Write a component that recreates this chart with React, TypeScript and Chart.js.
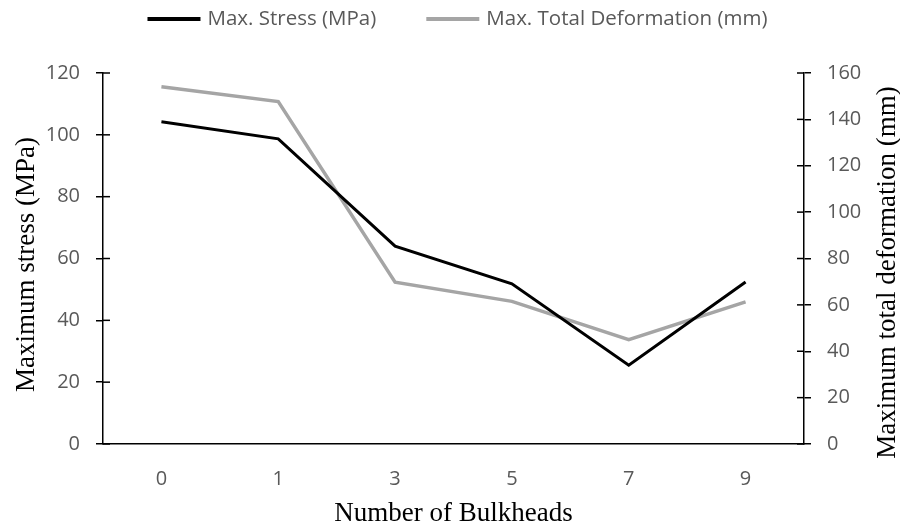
import React, { useEffect, useRef } from "react";
import { Chart, registerables } from "chart.js";

Chart.register(...registerables);

const categories = ["0", "1", "3", "5", "7", "9"];
const seriesNames = ["Max. Stress (MPa)", "Max. Total Deformation (mm)"];
const stress = [104.2, 98.7, 64.0, 51.8, 25.5, 52.4];
const deformation = [154.1, 147.7, 69.8, 61.5, 45.0, 61.3];
const stressTicks = [0, 20, 40, 60, 80, 100, 120];
const deformationTicks = [0, 20, 40, 60, 80, 100, 120, 140, 160];
const xTitle = "Number of Bulkheads";
const yTitle = "Maximum stress (MPa)";
const y1Title = "Maximum total deformation (mm)";

const SANS = "'Open Sans', sans-serif";
const SERIF = "'Liberation Serif', 'Times New Roman', serif";
const tickFont = { family: SANS, size: 20 };
const legendFont = { family: SANS, size: 20.5 };
const titleFont = { family: SERIF, size: 27 };

const decorations = {
  id: "decorations",
  afterDraw(chart: any) {
    const ctx = chart.ctx;
    const area = chart.chartArea;
    ctx.save();
    // inner halves of the crossing tick marks
    ctx.strokeStyle = "#000";
    ctx.lineWidth = 1.5;
    const y = chart.scales.y;
    y.ticks.forEach((_: any, i: number) => {
      const py = y.getPixelForTick(i);
      ctx.beginPath();
      ctx.moveTo(y.right, py);
      ctx.lineTo(y.right + 7, py);
      ctx.stroke();
    });
    const y1 = chart.scales.y1;
    y1.ticks.forEach((_: any, i: number) => {
      const py = y1.getPixelForTick(i);
      ctx.beginPath();
      ctx.moveTo(y1.left - 7, py);
      ctx.lineTo(y1.left, py);
      ctx.stroke();
    });

    // rotated axis titles
    ctx.fillStyle = "#000";
    ctx.font = `${titleFont.size}px ${SERIF}`;
    ctx.textAlign = "center";
    ctx.textBaseline = "middle";
    const midY = (area.top + area.bottom) / 2;
    ctx.save();
    ctx.translate(27, midY + 6);
    ctx.rotate(-Math.PI / 2);
    ctx.fillText(yTitle, 0, 0);
    ctx.restore();
    ctx.save();
    ctx.translate(chart.width - 12, midY + 14);
    ctx.rotate(-Math.PI / 2);
    ctx.fillText(y1Title, 0, 0);
    ctx.restore();

    // legend
    const lineW = 53;
    const gap = 7;
    const between = 50;
    ctx.font = `${legendFont.size}px ${SANS}`;
    const items = chart.data.datasets.map((d: any) => ({
      text: d.label,
      color: d.borderColor,
      width: d.legendLine,
      tw: ctx.measureText(d.label).width,
    }));
    const total =
      items.reduce((s: number, it: any) => s + lineW + gap + it.tw, 0) + between * (items.length - 1);
    let x = (area.left + area.right) / 2 - total / 2 + 4;
    const ly = 19;
    ctx.textAlign = "left";
    items.forEach((it: any) => {
      ctx.strokeStyle = it.color;
      ctx.lineWidth = it.width;
      ctx.beginPath();
      ctx.moveTo(x, ly);
      ctx.lineTo(x + lineW, ly);
      ctx.stroke();
      ctx.fillStyle = "#595959";
      ctx.fillText(it.text, x + lineW + gap, ly);
      x += lineW + gap + it.tw + between;
    });
    ctx.restore();
  },
};

export default function App() {
  const ref = useRef<HTMLCanvasElement>(null);
  useEffect(() => {
    if (!ref.current) return;
    const chart = new Chart(ref.current, {
      type: "line",
      data: {
        labels: categories,
        datasets: [
          {
            label: seriesNames[0],
            data: stress,
            borderColor: "#000000",
            backgroundColor: "#000000",
            borderWidth: 3,
            pointRadius: 0,
            yAxisID: "y",
            tension: 0,
            legendLine: 4,
          } as any,
          {
            label: seriesNames[1],
            data: deformation,
            borderColor: "#a5a5a5",
            backgroundColor: "#a5a5a5",
            borderWidth: 3.5,
            pointRadius: 0,
            yAxisID: "y1",
            tension: 0,
            legendLine: 4,
          } as any,
        ],
      },
      options: {
        animation: false,
        responsive: true,
        maintainAspectRatio: false,
        layout: { padding: { top: 73, left: 0, right: 0, bottom: 0 } },
        plugins: {
          tooltip: { enabled: false },
          legend: { display: false },
        },
        scales: {
          x: {
            offset: true,
            grid: { display: false },
            border: { color: "#000", width: 1.5 },
            ticks: { color: "#595959", font: tickFont, padding: 15 },
            title: { display: true, text: xTitle, color: "#000", font: titleFont, padding: { top: 0, bottom: -4 } },
            afterFit: (s: any) => { s.height = 82; },
          },
          y: {
            position: "left",
            min: 0,
            max: 120,
            afterBuildTicks: (s: any) => { s.ticks = stressTicks.map((v) => ({ value: v })); },
            grid: { drawOnChartArea: false, color: "#000", lineWidth: 1.5, tickLength: 7 },
            border: { color: "#000", width: 1.5 },
            ticks: { color: "#595959", font: tickFont, padding: 16 },
            afterFit: (s: any) => { s.width = 103; },
          },
          y1: {
            position: "right",
            min: 0,
            max: 160,
            afterBuildTicks: (s: any) => { s.ticks = deformationTicks.map((v) => ({ value: v })); },
            grid: { drawOnChartArea: false, color: "#000", lineWidth: 1.5, tickLength: 7 },
            border: { color: "#000", width: 1.5 },
            ticks: { color: "#595959", font: tickFont, padding: 16 },
            afterFit: (s: any) => { s.width = 96; },
          },
        },
      },
      plugins: [decorations],
    });
    return () => chart.destroy();
  }, []);
  return (
    <div style={{ position: "fixed", left: 0, top: 0, width: 900, height: 526, background: "#fff" }}>
      <canvas ref={ref} />
    </div>
  );
}
